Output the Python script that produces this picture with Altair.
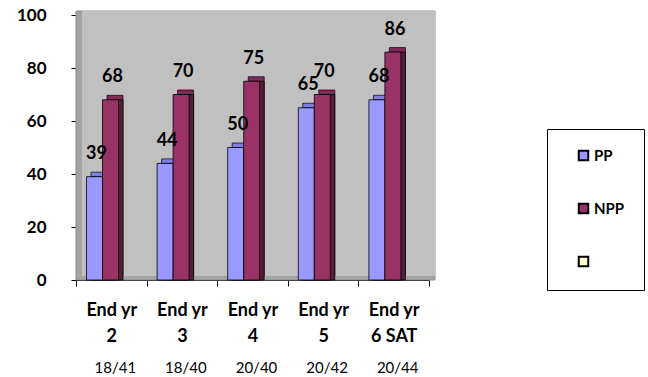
import altair as alt
import pandas as pd

# Categories (line break inside each label) and the two series
categories = ["End yr\n2", "End yr\n3", "End yr\n4", "End yr\n5", "End yr\n6 SAT"]
pp_values = [39, 44, 50, 65, 68]
npp_values = [68, 70, 75, 70, 86]
cohort_labels = ["18/41", "18/40", "20/40", "20/42", "20/44"]

series_names = ["PP", "NPP", " "]
front_colors = ["#9999FF", "#993366", "#FFFFCC"]
top_colors = {"PP": "#7F7FE0", "NPP": "#84295A"}
side_colors = {"PP": "#56568F", "NPP": "#561C39"}

rows = []
for cat, a, b in zip(categories, pp_values, npp_values):
    rows.append({"category": cat, "series": "PP", "value": a})
    rows.append({"category": cat, "series": "NPP", "value": b})
df = pd.DataFrame(rows)
foot = pd.DataFrame({"category": categories, "cohort": cohort_labels})

FONT = "Lato"
DEPTH = 4.5
FRONT_START = 10.5  # left edge of the bar pair inside each band
BAR_W = 16

x_enc = alt.X(
    "category:N",
    sort=categories,
    scale=alt.Scale(domain=categories, paddingInner=0, paddingOuter=0),
    axis=alt.Axis(
        title=None,
        labelAngle=0,
        tickBand="extent",
        tickSize=6,
        tickColor="black",
        domainColor="black",
        labelExpr="isValid(datum.value) ? split(datum.value, '\\n') : ''",
        labelFont=FONT,
        labelFontSize=18,
        labelFontWeight="bold",
        labelColor="black",
        labelLineHeight=26,
        labelPadding=15,
    ),
)


def xoff(shift=0.0):
    start = FRONT_START + shift
    return alt.XOffset(
        "series:N",
        sort=["PP", "NPP"],
        scale=alt.Scale(domain=["PP", "NPP"], range=[start, start + 2 * BAR_W], paddingOuter=0, paddingInner=0),
    )


# text sits on a point scale: centre of each bar's front face
xoff_text = alt.XOffset(
    "series:N",
    sort=["PP", "NPP"],
    scale=alt.Scale(
        type="point",
        domain=["PP", "NPP"],
        range=[FRONT_START + BAR_W / 2, FRONT_START + 1.5 * BAR_W],
        padding=0,
    ),
)

y_enc = alt.Y(
    "value:Q",
    scale=alt.Scale(domain=[0, 100]),
    axis=alt.Axis(
        title=None,
        values=[0, 20, 40, 60, 80, 100],
        grid=False,
        tickSize=5,
        tickColor="black",
        domainColor="black",
        labelFont=FONT,
        labelFontSize=17,
        labelFontWeight="bold",
        labelColor="black",
        labelPadding=25,
    ),
)

one = alt.Data(values=[{}])

# Side walls / floor and the back wall of the 3-D plot box
walls = alt.Chart(one).mark_rect(fill="#A3A3A3", stroke="#8C8C8C", strokeWidth=1).encode(
    x=alt.value(0), x2=alt.value(359), y=alt.value(-4), y2=alt.value(265)
)
back_wall = alt.Chart(one).mark_rect(fill="#C0C0C0").encode(
    x=alt.value(6), x2=alt.value(359), y=alt.value(-4), y2=alt.value(261)
)

base = alt.Chart(df)

bar_top = base.mark_bar(yOffset=-DEPTH, y2Offset=-DEPTH, stroke="black", strokeWidth=0.7).encode(
    x=x_enc,
    xOffset=xoff(DEPTH),
    y=y_enc,
    fill=alt.condition(alt.datum.series == "PP", alt.value(top_colors["PP"]), alt.value(top_colors["NPP"])),
)
bar_side = base.mark_bar(stroke="black", strokeWidth=0.7).encode(
    x=x_enc,
    xOffset=xoff(DEPTH),
    y=y_enc,
    fill=alt.condition(alt.datum.series == "PP", alt.value(side_colors["PP"]), alt.value(side_colors["NPP"])),
)
bar_front = base.mark_bar(stroke="black", strokeWidth=0.8).encode(
    x=x_enc,
    xOffset=xoff(),
    y=y_enc,
    color=alt.Color(
        "series:N",
        scale=alt.Scale(domain=series_names, range=front_colors),
        legend=alt.Legend(
            title=None,
            orient="none",
            legendX=471,
            legendY=114,
            symbolType="square",
            symbolSize=90,
            symbolStrokeColor="black",
            symbolStrokeWidth=2,
            symbolOffset=10,
            labelFont=FONT,
            labelFontSize=15,
            labelFontWeight="bold",
            labelColor="black",
            labelOffset=3,
            labelExpr="datum.label + '    '",
            rowPadding=34,
            padding=19,
            strokeColor="black",
            fillColor="white",
        ),
    ),
)

value_labels = base.mark_text(
    dx=2, dy=-17.5, baseline="alphabetic", font=FONT, fontSize=18, fontWeight="bold", color="black"
).encode(x=x_enc, xOffset=xoff_text, y=y_enc, text="value:Q")

cohort_text = alt.Chart(foot).mark_text(
    font=FONT, fontSize=15, color="black", baseline="middle", dx=4
).encode(x=x_enc, y=alt.value(353), text="cohort:N")

chart = (
    alt.layer(walls, back_wall, bar_top, bar_side, bar_front, value_labels, cohort_text)
    .resolve_scale(xOffset="independent")
    .properties(
        width=353,
        height=265,
        autosize=alt.AutoSizeParams(type="none"),
        padding={"left": 76, "top": 15, "right": 219, "bottom": 97},
        background="white",
    )
    .configure_view(stroke=None)
)

chart.save("out.html", embed_options={"renderer": "svg", "actions": False})
